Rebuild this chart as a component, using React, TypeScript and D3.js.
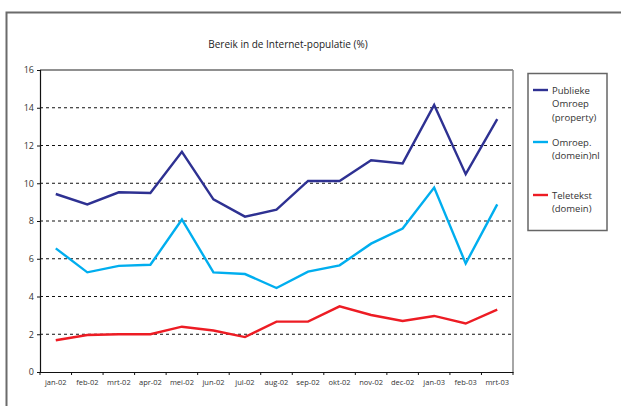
import React, { useEffect, useRef } from "react";
import * as d3 from "d3";

const categories = ["jan-02","feb-02","mrt-02","apr-02","mei-02","jun-02","jul-02","aug-02","sep-02","okt-02","nov-02","dec-02","jan-03","feb-03","mrt-03"];
const publiekeOmroep = [9.43,8.88,9.52,9.48,11.67,9.15,8.23,8.6,10.12,10.12,11.22,11.05,14.15,10.48,13.4];
const omroepNl = [6.55,5.28,5.62,5.68,8.08,5.28,5.19,4.45,5.32,5.65,6.8,7.6,9.77,5.75,8.88];
const teletekst = [1.68,1.96,2.0,2.0,2.4,2.2,1.85,2.67,2.67,3.48,3.02,2.7,2.97,2.57,3.3];
const yTicks = [0,2,4,6,8,10,12,14,16];
const seriesNames = [["Publieke","Omroep","(property)"],["Omroep.","(domein)nl"],["Teletekst","(domein)"]];
const seriesColors = ["#2e3192","#00aeef","#ed1c24"];
const title = "Bereik in de Internet-populatie (%)";

export default function App() {
  const ref = useRef<SVGSVGElement>(null);
  useEffect(() => {
    const svg = d3.select(ref.current);
    svg.selectAll("*").remove();
    const font = "'Open Sans', sans-serif";
    const L = 40, R = 513, T = 70, B = 372;
    const x = d3.scaleBand<string>().domain(categories).range([L, R]);
    const y = d3.scaleLinear().domain([0, 16]).range([B, T]);

    svg.append("rect").attr("width", 621).attr("height", 406).attr("fill", "#fff");
    svg.append("rect").attr("x", 6.5).attr("y", 12.5).attr("width", 800).attr("height", 600)
      .attr("fill", "none").attr("stroke", "#6b6b6b").attr("stroke-width", 2);

    svg.append("text").attr("x", 288).attr("y", 48).attr("text-anchor", "middle")
      .attr("font-family", font).attr("font-size", 10).attr("fill", "#222").text(title);

    // gridlines
    svg.append("g").selectAll("line").data(yTicks.filter(t => t > 0 && t < 16)).join("line")
      .attr("x1", L).attr("x2", R).attr("y1", d => y(d)).attr("y2", d => y(d))
      .attr("stroke", "#111").attr("stroke-width", 1).attr("stroke-dasharray", "3,3");

    // plot border
    svg.append("line").attr("x1", L).attr("x2", R).attr("y1", T).attr("y2", T).attr("stroke", "#222").attr("stroke-width", 1.2);
    svg.append("line").attr("x1", R).attr("x2", R).attr("y1", T).attr("y2", B).attr("stroke", "#888").attr("stroke-width", 1.5);

    // y axis
    const ya = svg.append("g").attr("transform", `translate(${L},0)`)
      .call(d3.axisLeft(y).tickValues(yTicks).tickSize(3).tickPadding(3).tickFormat(d3.format("d")));
    ya.select(".domain").attr("stroke", "#111").attr("stroke-width", 1.2);
    ya.selectAll("line").attr("stroke", "#111");
    ya.selectAll("text").attr("font-family", font).attr("font-size", 9).attr("fill", "#333");

    // x axis
    const xa = svg.append("g").attr("transform", `translate(0,${B})`)
      .call(d3.axisBottom(x).tickSize(0).tickPadding(8));
    xa.select(".domain").attr("stroke", "#111").attr("stroke-width", 1.2);
    xa.selectAll("text").attr("font-family", font).attr("font-size", 7.5).attr("fill", "#333");
    const bounds = categories.map(c => x(c)!).concat([R]);
    svg.append("g").selectAll("line").data(bounds).join("line")
      .attr("x1", d => d).attr("x2", d => d).attr("y1", B).attr("y2", B + 3)
      .attr("stroke", "#111");

    const line = d3.line<number>().x((_, i) => x(categories[i])! + x.bandwidth() / 2).y(d => y(d));
    [publiekeOmroep, omroepNl, teletekst].forEach((s, i) => {
      svg.append("path").attr("d", line(s)!).attr("fill", "none")
        .attr("stroke", seriesColors[i]).attr("stroke-width", 2.4).attr("stroke-linejoin", "miter");
    });

    // legend
    svg.append("rect").attr("x", 528).attr("y", 73.5).attr("width", 79).attr("height", 157)
      .attr("fill", "#fff").attr("stroke", "#666").attr("stroke-width", 1.5);
    const entryY = [90, 142, 195];
    seriesNames.forEach((lines, i) => {
      const g = svg.append("g");
      g.append("line").attr("x1", 533).attr("x2", 548).attr("y1", entryY[i]).attr("y2", entryY[i])
        .attr("stroke", seriesColors[i]).attr("stroke-width", 2.4);
      lines.forEach((t, j) => {
        g.append("text").attr("x", 552).attr("y", entryY[i] + j * 13.5 + 3.5)
          .attr("font-family", font).attr("font-size", 9.5).attr("fill", "#333").text(t);
      });
    });
  }, []);
  return <svg ref={ref} width={621} height={406} style={{ position: "absolute", left: 0, top: 0 }} />;
}
